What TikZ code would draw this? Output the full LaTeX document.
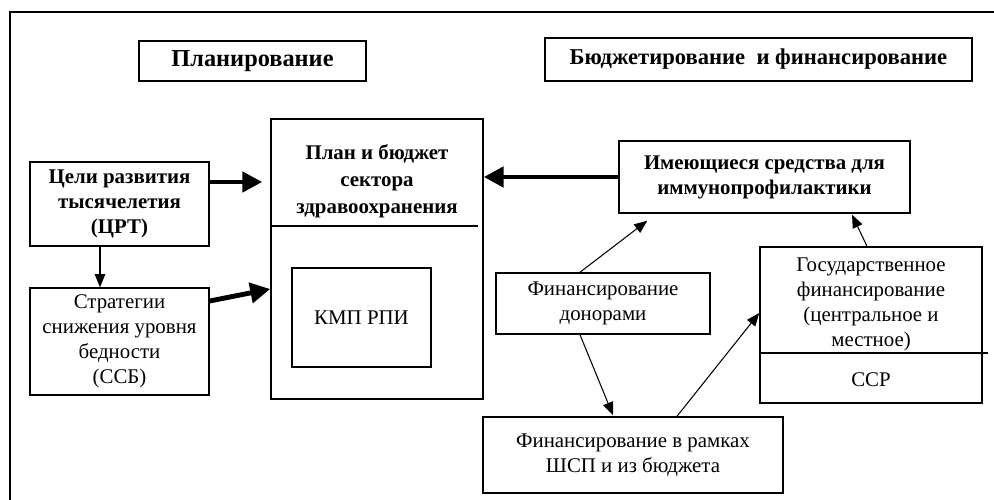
\documentclass[tikz,border=0pt]{standalone}
\usepackage{fontspec}
\setmainfont{Liberation Serif}
\usetikzlibrary{positioning, arrows.meta, calc}

\begin{document}
\begin{tikzpicture}[
  x=0.575pt, y=-0.575pt,
  font=\fontsize{12}{14.4}\selectfont,
  box/.style={draw, line width=0.85pt, align=center, inner sep=0pt},
  bbox/.style={box, font=\fontsize{12}{14.4}\selectfont\bfseries},
  arr/.style={-{Triangle[length=7.5pt, width=6pt]}, line width=0.6pt},
  fat/.style={-{Triangle[length=11.5pt, width=11.5pt]}, line width=2.8pt}
]

\clip (0,0) rectangle (994,500);
\draw[line width=1.2pt] (10,12) rectangle (1004,510);

\node[bbox, font=\fontsize{14}{16}\selectfont\bfseries, minimum width=130.5pt, minimum height=23pt] (plantitle) at (252.5,61) {Планирование};
\node[bbox, font=\fontsize{13}{15}\selectfont\bfseries, minimum width=245.5pt, minimum height=24.7pt] (budgtitle) at (758.5,59.5) {Бюджетирование\ \ и финансирование};

\node[bbox, minimum width=102.9pt, minimum height=48.3pt] (goals) at (119.5,204)
  {Цели развития\\ тысячелетия\\ (ЦРТ)};
\node[box, minimum width=102.9pt, minimum height=61.5pt] (strat) at (119.5,341.5)
  {Стратегии\\ снижения уровня\\ бедности\\ (ССБ)};

\node[box, minimum width=121.9pt, minimum height=161pt] (health) at (377,259) {};
\node[font=\fontsize{12}{15.5}\selectfont\bfseries, align=center] (healthtxt) at (377,181)
  {План и бюджет\\ сектора\\ здравоохранения};
\draw[line width=0.85pt] (health.west |- 0,226) -- (478,226);
\node[box, minimum width=79.9pt, minimum height=56.9pt] (kmp) at (361.5,317.5) {КМП РПИ};

\node[bbox, minimum width=167.3pt, minimum height=41.4pt] (funds) at (764.5,177)
  {Имеющиеся средства для\\ иммунопрофилактики};
\node[box, minimum width=123.1pt, minimum height=35.1pt] (donor) at (603,303.5)
  {Финансирование\\ донорами};
\node[box, minimum width=172.5pt, minimum height=43.7pt] (swap) at (633,455)
  {Финансирование в рамках\\ ШСП и из бюджета};

\node[box, minimum width=127.7pt, minimum height=89.7pt] (gov) at (871,325) {};
\node[align=center] (govtxt) at (871,304)
  {Государственное\\ финансирование\\ (центральное и\\ местное)};
\draw[line width=0.85pt] (gov.west |- 0,353) -- (988,353);
\node (ssr) at (871,380) {ССР};

\draw[arr] ($(goals.south)+(-19.5,0)$) -- ($(strat.north)+(-19.5,0)$);
\draw[fat] ($(goals.east)+(0,-22)$) -- ($(health.west |- goals.east)+(-8,-22)$);
\draw[fat] ($(strat.east)+(0,-40.5)$) -- ($(health.west)+(0,30)$);
\draw[fat] (funds.west) -- (health.east |- funds.west);

\draw[arr] ($(donor.north)+(-23,0)$) -- ($(funds.south west)+(29,7)$);
\draw[arr] ($(donor.south)+(-23,0)$) -- ($(swap.north)+(-20,-1)$);
\draw[arr] ($(swap.north)+(44,0)$) -- ($(gov.west)+(0,-12)$);
\draw[arr] ($(gov.north)+(-4,0)$) -- ($(funds.south)+(87.5,1)$);

\end{tikzpicture}
\end{document}
